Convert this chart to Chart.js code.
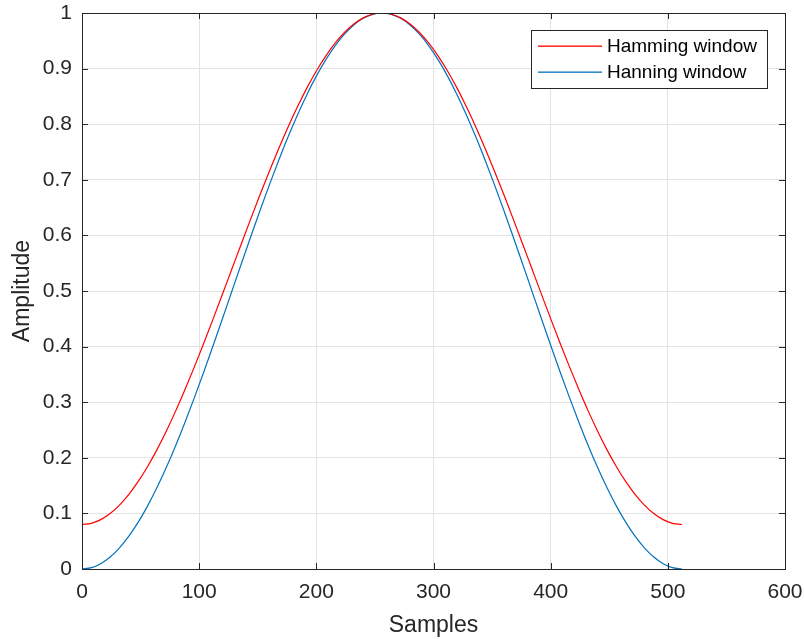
<!DOCTYPE html>
<html>
<head>
<meta charset="utf-8">
<script src="https://cdn.jsdelivr.net/npm/chart.js@4/dist/chart.umd.min.js"></script>
<style>
  html, body { margin: 0; padding: 0; background: #fff; }
  #wrap { width: 804px; height: 639px; }
</style>
</head>
<body>
<div id="wrap"><canvas id="chart"></canvas></div>
<script>
// sample positions (every 8 samples)
const samples = [0, 8, 16, 24, 32, 40, 48, 56, 64, 72, 80, 88, 96, 104, 112, 120, 128, 136, 144, 152, 160,
                 168, 176, 184, 192, 200, 208, 216, 224, 232, 240, 248, 256, 264, 272, 280, 288, 296, 304,
                 312, 320, 328, 336, 344, 352, 360, 368, 376, 384, 392, 400, 408, 416, 424, 432, 440, 448,
                 456, 464, 472, 480, 488, 496, 504, 512];
const hamming = [0.08, 0.0822, 0.0888, 0.0998, 0.115, 0.1343, 0.1575, 0.1844, 0.2147, 0.2482, 0.2844,
                 0.3232, 0.364, 0.4065, 0.4503, 0.4949, 0.54, 0.5851, 0.6297, 0.6735, 0.716, 0.7568, 0.7956,
                 0.8318, 0.8653, 0.8956, 0.9225, 0.9457, 0.965, 0.9802, 0.9912, 0.9978, 1.0,
                 0.9978, 0.9912, 0.9802, 0.965, 0.9457, 0.9225, 0.8956, 0.8653, 0.8318, 0.7956, 0.7568,
                 0.716, 0.6735, 0.6297, 0.5851, 0.54, 0.4949, 0.4503, 0.4065, 0.364, 0.3232, 0.2844,
                 0.2482, 0.2147, 0.1844, 0.1575, 0.1343, 0.115, 0.0998, 0.0888, 0.0822, 0.08];
const hanning = [0, 0.0024, 0.0096, 0.0215, 0.0381, 0.059, 0.0843, 0.1135, 0.1464, 0.1828, 0.2222,
                 0.2643, 0.3087, 0.3549, 0.4025, 0.451, 0.5, 0.549, 0.5975, 0.6451, 0.6913, 0.7357, 0.7778,
                 0.8172, 0.8536, 0.8865, 0.9157, 0.941, 0.9619, 0.9785, 0.9904, 0.9976, 1.0,
                 0.9976, 0.9904, 0.9785, 0.9619, 0.941, 0.9157, 0.8865, 0.8536, 0.8172, 0.7778, 0.7357,
                 0.6913, 0.6451, 0.5975, 0.549, 0.5, 0.451, 0.4025, 0.3549, 0.3087, 0.2643, 0.2222,
                 0.1828, 0.1464, 0.1135, 0.0843, 0.059, 0.0381, 0.0215, 0.0096, 0.0024, 0];
const seriesNames = ['Hamming window', 'Hanning window'];
const seriesColors = ['#ff0000', '#0072bd'];
const xTitle = 'Samples';
const yTitle = 'Amplitude';

const FONT = "'Liberation Sans', Arial, sans-serif";
const INK = '#262626';

// box around the axes, inward tick marks and the legend inside the plot
const matlabAxes = {
  id: 'matlabAxes',
  afterDraw(chart) {
    const { ctx, chartArea: a, scales: { x, y } } = chart;
    ctx.save();
    ctx.strokeStyle = INK;
    ctx.lineWidth = 1;
    ctx.beginPath();
    x.ticks.forEach(t => {
      const px = Math.round(x.getPixelForValue(t.value)) + 0.5;
      ctx.moveTo(px, a.bottom); ctx.lineTo(px, a.bottom - 6);
      ctx.moveTo(px, a.top); ctx.lineTo(px, a.top + 6);
    });
    y.ticks.forEach(t => {
      const py = Math.round(y.getPixelForValue(t.value)) + 0.5;
      ctx.moveTo(a.left, py); ctx.lineTo(a.left + 6, py);
      ctx.moveTo(a.right, py); ctx.lineTo(a.right - 6, py);
    });
    ctx.stroke();
    ctx.strokeRect(Math.round(a.left) + 0.5, Math.round(a.top) + 0.5,
                   Math.round(a.right - a.left), Math.round(a.bottom - a.top));

    // legend
    const bw = 236, bh = 58;
    const bx = Math.round(a.right) - 18 - bw, by = Math.round(a.top) + 17;
    ctx.fillStyle = '#fff';
    ctx.fillRect(bx, by, bw, bh);
    ctx.lineWidth = 1;
    ctx.strokeStyle = INK;
    ctx.strokeRect(bx + 0.5, by + 0.5, bw, bh);
    ctx.font = '19px ' + FONT;
    ctx.textBaseline = 'middle';
    seriesNames.forEach((name, i) => {
      const ly = by + 16 + i * 26;
      ctx.fillStyle = seriesColors[i];
      ctx.fillRect(bx + 7, ly - 0.5, 64, 1.3);
      ctx.fillStyle = '#000';
      ctx.fillText(name, bx + 76, ly + 1);
    });
    ctx.restore();
  }
};

new Chart(document.getElementById('chart'), {
  type: 'line',
  data: {
    datasets: [
      {
        label: seriesNames[0],
        data: samples.map((s, i) => ({ x: s, y: hamming[i] })),
        borderColor: seriesColors[0],
        borderWidth: 1.2,
        pointRadius: 0,
        cubicInterpolationMode: 'monotone'
      },
      {
        label: seriesNames[1],
        data: samples.map((s, i) => ({ x: s, y: hanning[i] })),
        borderColor: seriesColors[1],
        borderWidth: 1.2,
        pointRadius: 0,
        cubicInterpolationMode: 'monotone'
      }
    ]
  },
  options: {
    responsive: true,
    maintainAspectRatio: false,
    animation: false,
    layout: { padding: { left: 0, top: 13, right: 19, bottom: 0 } },
    plugins: { legend: { display: false }, tooltip: { enabled: false } },
    scales: {
      x: {
        type: 'linear', min: 0, max: 600,
        grid: { color: '#e3e3e3', drawTicks: false },
        border: { display: false },
        ticks: { stepSize: 100, padding: 11, color: INK, font: { family: FONT, size: 21 } },
        title: { display: true, text: xTitle, color: INK, font: { family: FONT, size: 23 }, padding: { top: 4, bottom: 0 } },
        afterFit(s) { s.height = 70; s.paddingLeft = 0; s.paddingRight = 0; }
      },
      y: {
        min: 0, max: 1,
        grid: { color: '#e3e3e3', drawTicks: false },
        border: { display: false },
        ticks: {
          stepSize: 0.1, padding: 10, color: INK, font: { family: FONT, size: 21 },
          callback: v => String(+v.toFixed(1))
        },
        title: { display: true, text: yTitle, color: INK, font: { family: FONT, size: 23 }, padding: { top: 9, bottom: 0 } },
        afterFit(s) { s.width = 82; s.paddingTop = 0; s.paddingBottom = 0; }
      }
    }
  },
  plugins: [matlabAxes]
});
</script>
</body>
</html>
